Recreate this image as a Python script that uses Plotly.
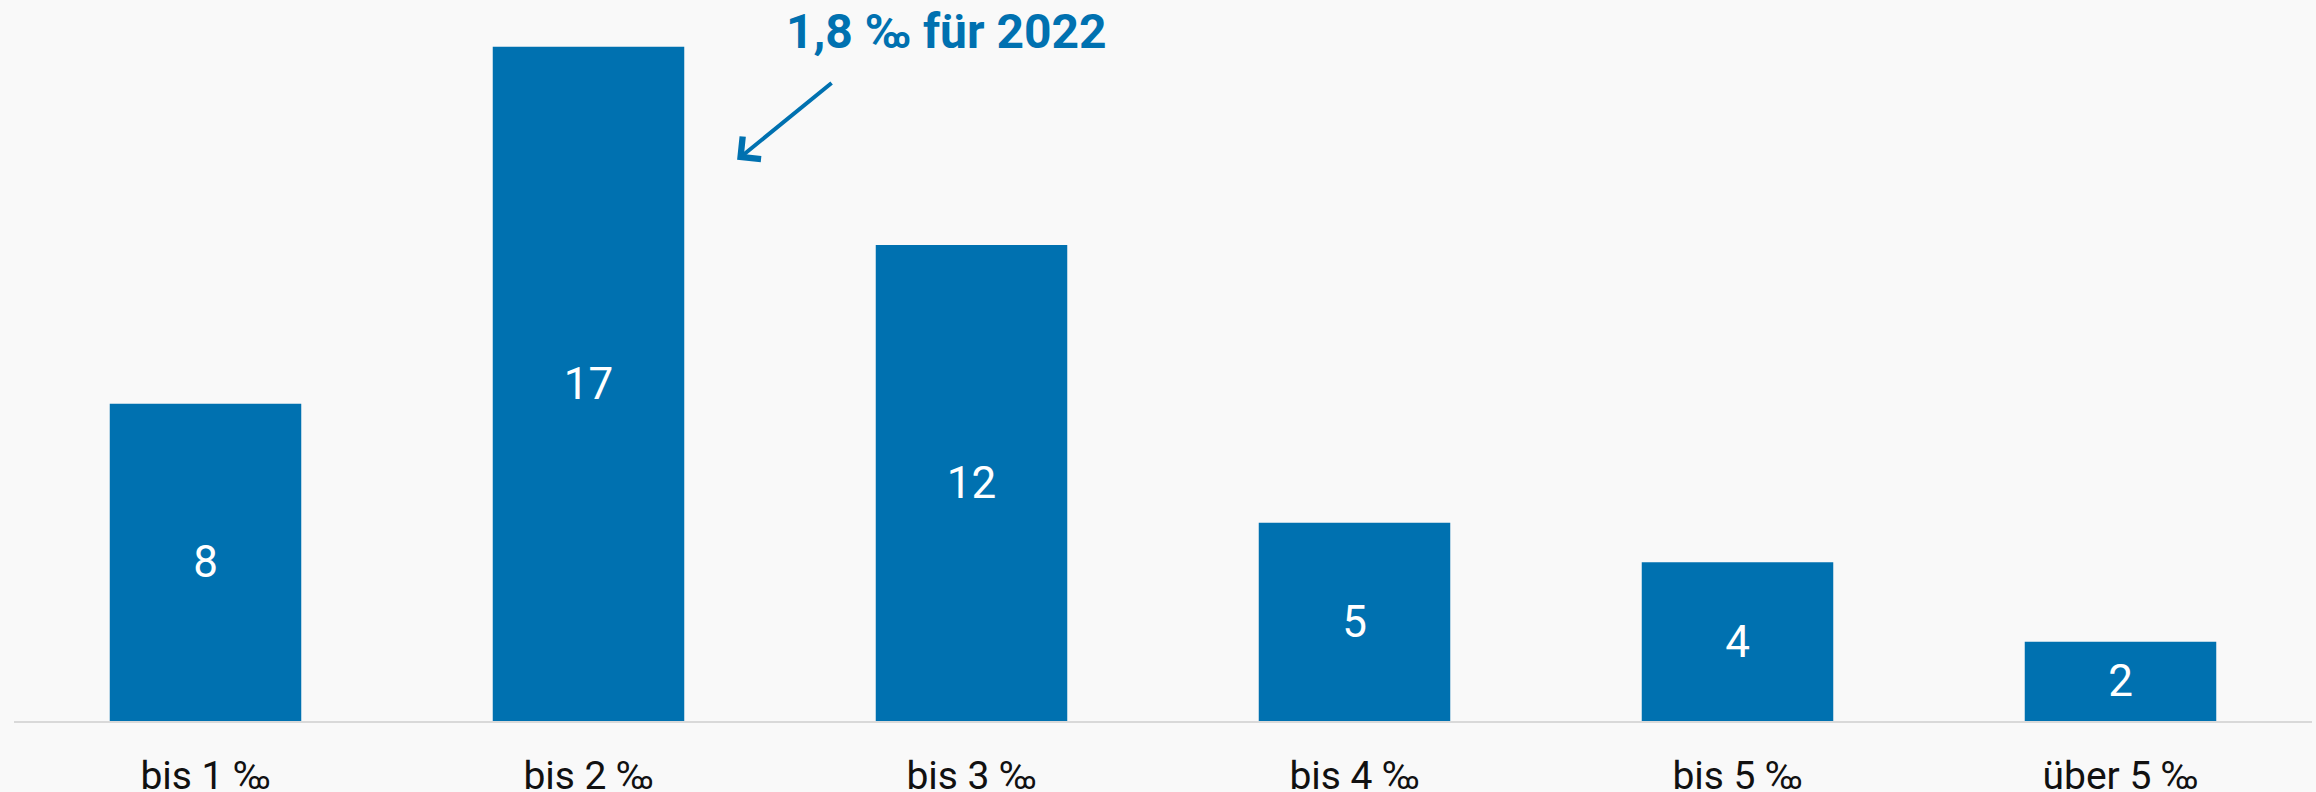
import plotly.graph_objects as go

categories = ["bis 1 ‰", "bis 2 ‰", "bis 3 ‰", "bis 4 ‰", "bis 5 ‰", "über 5 ‰"]
values = [8, 17, 12, 5, 4, 2]
annotation_text = "1,8 ‰ für 2022"

blue = "#0071b0"
bg = "#f9f9f9"

fig = go.Figure(go.Bar(
    x=categories, y=values,
    marker=dict(color=blue, line=dict(width=0)),
    text=[str(v) for v in values],
    textposition="inside", insidetextanchor="middle",
    textfont=dict(family="Roboto", size=44, color="white"),
    hoverinfo="skip",
))

fig.add_annotation(
    x=1.388, y=14.15, xref="x", yref="y",
    ax=96, ay=-78, axref="pixel", ayref="pixel",
    text="", showarrow=True, arrowhead=4, arrowsize=1.4,
    arrowwidth=4, arrowcolor=blue,
)
fig.add_annotation(
    x=0.4056, y=0.957, xref="paper", yref="paper",
    text="<b>" + annotation_text + "</b>", showarrow=False,
    font=dict(family="Roboto", size=48, color=blue),
    xanchor="center", yanchor="middle",
)

fig.update_layout(
    width=2316, height=792,
    margin=dict(l=14, r=4, t=0, b=71),
    paper_bgcolor=bg, plot_bgcolor=bg,
    bargap=0.5, showlegend=False,
    xaxis=dict(
        showline=True, linecolor="#d9d9d9", linewidth=2,
        ticks="outside", ticklen=19, tickcolor="rgba(0,0,0,0)",
        showgrid=False, automargin=False,
        tickfont=dict(family="Roboto", size=39, color="#111111"),
    ),
    yaxis=dict(range=[0, 18.18], visible=False, showgrid=False, zeroline=False),
)

fig.write_html(
    "out.html",
    config={"displayModeBar": False},
    post_script="document.body.style.margin='0';document.body.style.background='%s';" % bg,
)
